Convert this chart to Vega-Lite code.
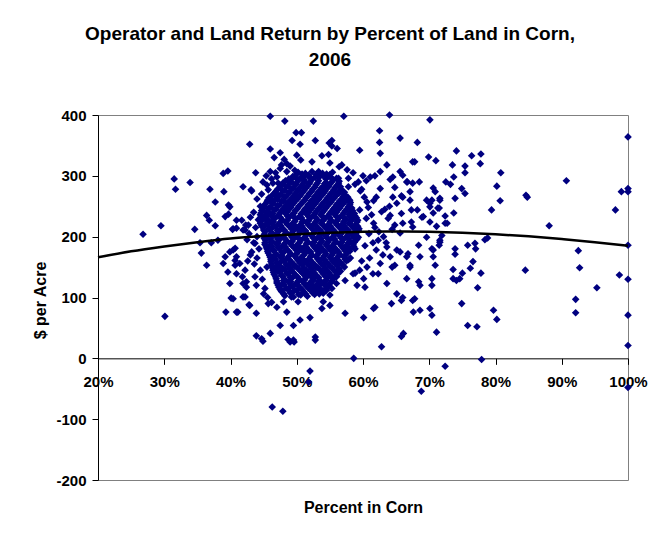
{
  "$schema": "https://vega.github.io/schema/vega-lite/v6.json",
  "width": 530,
  "height": 365,
  "autosize": {"type": "none"},
  "padding": {"left": 98, "top": 115, "right": 22, "bottom": 53},
  "background": "white",
  "title": {
    "text": ["Operator and Land Return by Percent of Land in Corn,", "2006"],
    "font": "Liberation Sans",
    "fontSize": 19,
    "fontWeight": "bold",
    "color": "black",
    "anchor": "middle",
    "dx": -33,
    "offset": 38,
    "lineHeight": 26
  },
  "config": {
    "view": {"stroke": "#808080", "strokeWidth": 1},
    "axis": {
      "labelFont": "Liberation Sans",
      "labelFontWeight": "bold",
      "labelFontSize": 15,
      "labelColor": "black",
      "titleFont": "Liberation Sans",
      "titleFontWeight": "bold",
      "titleFontSize": 16,
      "titleColor": "black",
      "domainColor": "black",
      "tickColor": "black",
      "grid": false
    }
  },
  "datasets": {
    "pts": [
      {"pct":26.8,"ret":204},{"pct":29.5,"ret":218},{"pct":31.5,"ret":295},{"pct":31.7,"ret":278},{"pct":33.9,"ret":289},{"pct":30.1,"ret":69},{"pct":34.6,"ret":212},{"pct":36.9,"ret":278},{"pct":37.7,"ret":257},{"pct":36.4,"ret":235},{"pct":36.8,"ret":227},{"pct":37.7,"ret":218},{"pct":35.4,"ret":190},{"pct":35.6,"ret":173},{"pct":36.4,"ret":153},{"pct":37.1,"ret":190},{"pct":38.1,"ret":194},{"pct":38.9,"ret":304},{"pct":39.6,"ret":308},{"pct":39.0,"ret":274},{"pct":39.2,"ret":233},{"pct":39.7,"ret":252},{"pct":39.7,"ret":237},{"pct":38.9,"ret":156},{"pct":39.6,"ret":142},{"pct":39.3,"ret":76},{"pct":39.9,"ret":123},{"pct":40.1,"ret":99},{"pct":39.2,"ret":167},{"pct":39.9,"ret":175},{"pct":40.3,"ret":212},
      {"pct":42.9,"ret":352},{"pct":43.8,"ret":305},{"pct":41.9,"ret":282},{"pct":43.1,"ret":277},{"pct":43.2,"ret":275},{"pct":40.4,"ret":213},{"pct":40.9,"ret":214},{"pct":41.7,"ret":227},{"pct":42.2,"ret":211},{"pct":42.7,"ret":219},{"pct":40.7,"ret":181},{"pct":40.9,"ret":167},{"pct":40.7,"ret":153},{"pct":42.2,"ret":145},{"pct":41.8,"ret":134},{"pct":42.4,"ret":126},{"pct":42.4,"ret":117},{"pct":41.9,"ret":101},{"pct":41.1,"ret":76},{"pct":42.8,"ret":88},{"pct":43.9,"ret":74},{"pct":43.9,"ret":37},{"pct":43.2,"ret":175},{"pct":43.7,"ret":189},
      {"pct":46.0,"ret":398},{"pct":48.2,"ret":390},{"pct":52.5,"ret":390},{"pct":49.9,"ret":371},{"pct":50.7,"ret":371},{"pct":49.3,"ret":358},{"pct":50.5,"ret":352},{"pct":52.8,"ret":358},{"pct":54.9,"ret":354},{"pct":55.3,"ret":349},{"pct":46.0,"ret":344},{"pct":47.5,"ret":338},{"pct":46.6,"ret":330},{"pct":48.1,"ret":327},{"pct":50.0,"ret":334},{"pct":50.6,"ret":326},{"pct":52.3,"ret":323},{"pct":53.8,"ret":333},{"pct":54.8,"ret":335},{"pct":55.0,"ret":321},{"pct":47.7,"ret":318},{"pct":49.0,"ret":316},{"pct":49.7,"ret":309},{"pct":48.5,"ret":307},{"pct":46.0,"ret":307},{"pct":45.4,"ret":300},{"pct":47.0,"ret":298},{"pct":49.1,"ret":294},{"pct":51.2,"ret":301},{"pct":53.3,"ret":307},{"pct":54.5,"ret":298},{"pct":46.4,"ret":288},{"pct":45.7,"ret":277},{"pct":46.7,"ret":268},{"pct":46.2,"ret":260},{"pct":39.9,"ret":249},{"pct":40.9,"ret":227},{"pct":42.3,"ret":219},{"pct":41.9,"ret":211},
      {"pct":57.1,"ret":398},{"pct":64.0,"ret":400},{"pct":70.1,"ret":392},{"pct":62.5,"ret":374},{"pct":62.5,"ret":355},{"pct":65.6,"ret":362},{"pct":68.2,"ret":355},{"pct":59.5,"ret":342},{"pct":62.6,"ret":337},{"pct":56.1,"ret":345},{"pct":55.3,"ret":358},{"pct":67.8,"ret":323},{"pct":69.9,"ret":331},{"pct":71.0,"ret":325},{"pct":56.4,"ret":315},{"pct":63.6,"ret":318},{"pct":62.6,"ret":307},{"pct":61.8,"ret":300},{"pct":65.6,"ret":307},{"pct":66.0,"ret":301},{"pct":64.1,"ret":294},{"pct":57.8,"ret":296},{"pct":60.5,"ret":292},{"pct":61.1,"ret":298},{"pct":58.8,"ret":286},{"pct":59.8,"ret":278},{"pct":62.6,"ret":279},{"pct":66.7,"ret":290},{"pct":68.5,"ret":290},{"pct":64.8,"ret":281},{"pct":67.1,"ret":274},{"pct":70.9,"ret":274},{"pct":65.8,"ret":267},{"pct":67.1,"ret":260},{"pct":69.6,"ret":260},{"pct":70.1,"ret":249},{"pct":60.6,"ret":257},{"pct":61.6,"ret":259},{"pct":64.0,"ret":250},{"pct":67.3,"ret":244},{"pct":69.1,"ret":233},{"pct":65.8,"ret":238},{"pct":62.8,"ret":241},{"pct":59.5,"ret":244},{"pct":57.8,"ret":282},{"pct":56.3,"ret":271},{"pct":57.0,"ret":260},{"pct":58.0,"ret":233},{"pct":67.3,"ret":224},{"pct":70.1,"ret":224},{"pct":64.8,"ret":219},{"pct":61.6,"ret":222},
      {"pct":56.0,"ret":134},{"pct":57.3,"ret":128},{"pct":58.5,"ret":139},{"pct":60.1,"ret":131},{"pct":59.1,"ret":120},{"pct":55.3,"ret":115},{"pct":60.3,"ret":117},{"pct":62.3,"ret":139},{"pct":63.6,"ret":123},{"pct":66.6,"ret":131},{"pct":68.4,"ret":126},{"pct":68.6,"ret":120},{"pct":70.4,"ret":131},{"pct":67.1,"ret":153},{"pct":64.8,"ret":153},{"pct":64.1,"ret":167},{"pct":65.1,"ret":178},{"pct":66.8,"ret":172},{"pct":68.4,"ret":186},{"pct":70.6,"ret":167},{"pct":65.1,"ret":106},{"pct":65.8,"ret":95},{"pct":64.3,"ret":90},{"pct":67.8,"ret":98},{"pct":70.1,"ret":82},{"pct":67.6,"ret":76},{"pct":70.4,"ret":71},{"pct":61.6,"ret":82},{"pct":57.3,"ret":74},{"pct":60.1,"ret":67},{"pct":55.0,"ret":87},{"pct":66.1,"ret":41},{"pct":65.8,"ret":36},{"pct":71.1,"ret":43},{"pct":62.8,"ret":19},{"pct":58.6,"ret":0},
      {"pct":40.4,"ret":178},{"pct":40.7,"ret":161},{"pct":41.4,"ret":156},{"pct":40.9,"ret":139},{"pct":41.9,"ret":123},{"pct":40.4,"ret":98},{"pct":42.2,"ret":101},{"pct":42.9,"ret":87},{"pct":40.9,"ret":76},{"pct":44.7,"ret":32},{"pct":46.0,"ret":41},{"pct":48.7,"ret":31},{"pct":49.5,"ret":30},{"pct":52.8,"ret":35},{"pct":47.5,"ret":54},{"pct":49.5,"ret":54},{"pct":50.5,"ret":63},{"pct":52.0,"ret":67},{"pct":48.5,"ret":76},{"pct":47.0,"ret":84},{"pct":45.7,"ret":90},{"pct":45.0,"ret":106},{"pct":43.7,"ret":134},{"pct":45.5,"ret":150},{"pct":46.5,"ret":145},{"pct":47.7,"ret":112},{"pct":49.2,"ret":101},{"pct":50.2,"ret":93},{"pct":48.0,"ret":93},{"pct":53.8,"ret":82},{"pct":54.0,"ret":93},{"pct":55.0,"ret":104},{"pct":54.5,"ret":112},{"pct":56.0,"ret":123},{"pct":53.8,"ret":123},{"pct":52.5,"ret":128},{"pct":51.7,"ret":137},
      {"pct":74.1,"ret":341},{"pct":76.4,"ret":333},{"pct":77.8,"ret":336},{"pct":77.7,"ret":320},{"pct":75.4,"ret":316},{"pct":73.5,"ret":318},{"pct":75.4,"ret":305},{"pct":73.7,"ret":298},{"pct":80.8,"ret":305},{"pct":72.5,"ret":290},{"pct":73.2,"ret":286},{"pct":80.2,"ret":283},{"pct":74.9,"ret":279},{"pct":75.4,"ret":271},{"pct":71.6,"ret":263},{"pct":73.9,"ret":263},{"pct":70.4,"ret":260},{"pct":80.7,"ret":259},{"pct":79.4,"ret":244},{"pct":84.6,"ret":268},{"pct":84.8,"ret":265},{"pct":71.5,"ret":247},{"pct":73.7,"ret":239},{"pct":72.4,"ret":234},{"pct":72.4,"ret":222},{"pct":71.1,"ret":217},{"pct":78.4,"ret":195},{"pct":78.8,"ret":198},{"pct":71.9,"ret":202},{"pct":71.6,"ret":191},{"pct":71.5,"ret":186},{"pct":70.4,"ret":180},{"pct":73.9,"ret":180},{"pct":73.9,"ret":171},{"pct":75.8,"ret":186},{"pct":76.9,"ret":189},{"pct":77.0,"ret":180},{"pct":70.9,"ret":153},{"pct":73.6,"ret":146},{"pct":73.6,"ret":131},{"pct":74.1,"ret":128},{"pct":74.6,"ret":131},{"pct":75.0,"ret":140},{"pct":76.2,"ret":148},{"pct":76.6,"ret":159},{"pct":77.8,"ret":140},{"pct":77.3,"ret":116},{"pct":74.9,"ret":90},{"pct":79.7,"ret":79},{"pct":80.2,"ret":64},{"pct":75.8,"ret":54},{"pct":77.2,"ret":52},{"pct":84.5,"ret":145},{"pct":77.9,"ret":-2},
      {"pct":100,"ret":364},{"pct":90.7,"ret":292},{"pct":99.0,"ret":274},{"pct":100,"ret":279},{"pct":100,"ret":274},{"pct":98.1,"ret":244},{"pct":88.1,"ret":218},{"pct":92.5,"ret":177},{"pct":100,"ret":186},{"pct":92.7,"ret":149},{"pct":98.7,"ret":137},{"pct":100,"ret":130},{"pct":95.3,"ret":116},{"pct":92.1,"ret":97},{"pct":92.1,"ret":75},{"pct":100,"ret":71},{"pct":100,"ret":21},
      {"pct":72.4,"ret":-13},{"pct":52.0,"ret":-21},{"pct":51.8,"ret":-39},{"pct":68.8,"ret":-54},{"pct":100,"ret":-48},{"pct":46.3,"ret":-80},{"pct":47.9,"ret":-87},{"pct":44.9,"ret":28},{"pct":49.0,"ret":27},{"pct":49.6,"ret":27},{"pct":52.8,"ret":30},
      {"pct":67.5,"ret":323},{"pct":64.5,"ret":298},{"pct":66.6,"ret":290},{"pct":67.5,"ret":288},{"pct":70.6,"ret":280},{"pct":70.1,"ret":255},{"pct":71.6,"ret":260},{"pct":66.0,"ret":265},{"pct":65.1,"ret":255},{"pct":68.2,"ret":244},{"pct":68.9,"ret":232},{"pct":70.6,"ret":239},{"pct":71.3,"ret":247},{"pct":72.7,"ret":222},{"pct":64.1,"ret":235},{"pct":66.0,"ret":222},{"pct":67.5,"ret":216},{"pct":65.6,"ret":206},{"pct":69.6,"ret":199},{"pct":71.6,"ret":194},{"pct":62.3,"ret":194},{"pct":63.6,"ret":183},{"pct":65.6,"ret":175},{"pct":66.6,"ret":167},{"pct":68.6,"ret":167},{"pct":70.6,"ret":178},{"pct":62.6,"ret":156},{"pct":64.4,"ret":150},{"pct":67.1,"ret":150},{"pct":61.5,"ret":139},{"pct":70.4,"ret":120},{"pct":66.0,"ret":100},{"pct":67.5,"ret":95},{"pct":68.6,"ret":79},{"pct":61.8,"ret":84},
      {"pct":44.0,"ret":262},{"pct":44.5,"ret":250},{"pct":43.5,"ret":240},{"pct":44.2,"ret":228},{"pct":43.0,"ret":232},{"pct":43.8,"ret":215},{"pct":42.8,"ret":205},{"pct":44.0,"ret":200},{"pct":43.5,"ret":190},{"pct":44.3,"ret":180},{"pct":42.5,"ret":195},{"pct":43.0,"ret":170},{"pct":44.0,"ret":165},{"pct":43.6,"ret":155},{"pct":44.5,"ret":145},{"pct":42.6,"ret":160},{"pct":44.8,"ret":130},{"pct":43.9,"ret":120},{"pct":45.2,"ret":115},{"pct":45.6,"ret":100},{"pct":46.2,"ret":92},{"pct":44.7,"ret":270},{"pct":45.5,"ret":285},{"pct":46.2,"ret":295},{"pct":46.8,"ret":305},{"pct":47.5,"ret":312},{"pct":48.5,"ret":320},{"pct":47.2,"ret":288},{"pct":44.9,"ret":290},
      {"pct":59.6,"ret":275},{"pct":60.2,"ret":265},{"pct":60.8,"ret":248},{"pct":61.3,"ret":236},{"pct":60.5,"ret":230},{"pct":61.8,"ret":215},{"pct":60.9,"ret":205},{"pct":62.4,"ret":208},{"pct":63.1,"ret":200},{"pct":61.5,"ret":190},{"pct":60.3,"ret":185},{"pct":62.0,"ret":178},{"pct":63.0,"ret":170},{"pct":61.0,"ret":165},{"pct":59.8,"ret":160},{"pct":60.6,"ret":150},{"pct":59.5,"ret":145},{"pct":58.8,"ret":140},{"pct":59.3,"ret":290},{"pct":60.0,"ret":300},{"pct":58.5,"ret":305},{"pct":57.6,"ret":310},{"pct":56.8,"ret":318},{"pct":63.8,"ret":230},{"pct":64.4,"ret":212},{"pct":63.3,"ret":245},{"pct":62.0,"ret":265},{"pct":64.5,"ret":265},{"pct":63.5,"ret":190},
      {"pct":50.2,"ret":306},{"pct":51.3,"ret":304},{"pct":52.3,"ret":307},{"pct":53.4,"ret":305},{"pct":54.5,"ret":303},{"pct":55.4,"ret":306},
      {"pct":49.4,"ret":299},{"pct":50.6,"ret":297},{"pct":51.7,"ret":300},{"pct":52.8,"ret":298},{"pct":53.9,"ret":301},{"pct":55.0,"ret":299},{"pct":56.0,"ret":296},
      {"pct":48.3,"ret":292},{"pct":49.2,"ret":290},{"pct":50.3,"ret":293},{"pct":51.2,"ret":291},{"pct":52.3,"ret":294},{"pct":53.3,"ret":292},{"pct":54.4,"ret":289},{"pct":55.5,"ret":293},{"pct":56.4,"ret":291},
      {"pct":47.6,"ret":285},{"pct":48.7,"ret":283},{"pct":49.8,"ret":286},{"pct":50.8,"ret":284},{"pct":51.9,"ret":287},{"pct":52.9,"ret":285},{"pct":54.0,"ret":282},{"pct":55.0,"ret":286},{"pct":56.1,"ret":284},
      {"pct":47.1,"ret":278},{"pct":48.2,"ret":276},{"pct":49.3,"ret":279},{"pct":50.2,"ret":277},{"pct":51.4,"ret":280},{"pct":52.4,"ret":278},{"pct":53.5,"ret":275},{"pct":54.5,"ret":279},{"pct":55.6,"ret":277},{"pct":56.7,"ret":278},
      {"pct":46.6,"ret":271},{"pct":47.6,"ret":269},{"pct":48.8,"ret":272},{"pct":49.8,"ret":270},{"pct":50.9,"ret":273},{"pct":51.9,"ret":271},{"pct":53.0,"ret":268},{"pct":54.1,"ret":272},{"pct":55.1,"ret":270},{"pct":56.2,"ret":271},{"pct":57.2,"ret":269},
      {"pct":45.8,"ret":264},{"pct":47.1,"ret":262},{"pct":48.2,"ret":265},{"pct":49.3,"ret":263},{"pct":50.4,"ret":266},{"pct":51.4,"ret":264},{"pct":52.5,"ret":261},{"pct":53.5,"ret":265},{"pct":54.6,"ret":263},{"pct":55.7,"ret":264},{"pct":56.8,"ret":262},{"pct":57.7,"ret":265},
      {"pct":45.5,"ret":257},{"pct":46.5,"ret":255},{"pct":47.7,"ret":258},{"pct":48.7,"ret":256},{"pct":49.8,"ret":259},{"pct":50.9,"ret":257},{"pct":51.9,"ret":254},{"pct":53.0,"ret":258},{"pct":54.1,"ret":256},{"pct":55.2,"ret":257},{"pct":56.2,"ret":255},{"pct":57.3,"ret":258},{"pct":58.1,"ret":256},
      {"pct":45.0,"ret":250},{"pct":46.0,"ret":248},{"pct":47.1,"ret":251},{"pct":48.2,"ret":249},{"pct":49.3,"ret":252},{"pct":50.3,"ret":250},{"pct":51.4,"ret":247},{"pct":52.5,"ret":251},{"pct":53.6,"ret":249},{"pct":54.6,"ret":250},{"pct":55.7,"ret":248},{"pct":56.7,"ret":251},{"pct":57.8,"ret":249},
      {"pct":44.7,"ret":243},{"pct":45.6,"ret":241},{"pct":46.6,"ret":244},{"pct":47.7,"ret":242},{"pct":48.8,"ret":245},{"pct":49.8,"ret":243},{"pct":50.9,"ret":240},{"pct":52.0,"ret":244},{"pct":53.0,"ret":242},{"pct":54.1,"ret":243},{"pct":55.2,"ret":241},{"pct":56.2,"ret":244},{"pct":57.3,"ret":242},{"pct":58.4,"ret":243},
      {"pct":44.5,"ret":236},{"pct":45.2,"ret":234},{"pct":46.1,"ret":237},{"pct":47.2,"ret":235},{"pct":48.3,"ret":238},{"pct":49.3,"ret":236},{"pct":50.4,"ret":233},{"pct":51.5,"ret":237},{"pct":52.5,"ret":235},{"pct":53.6,"ret":236},{"pct":54.7,"ret":234},{"pct":55.7,"ret":237},{"pct":56.8,"ret":235},{"pct":57.9,"ret":236},{"pct":58.8,"ret":234},
      {"pct":44.8,"ret":229},{"pct":45.7,"ret":227},{"pct":46.7,"ret":230},{"pct":47.8,"ret":228},{"pct":48.8,"ret":231},{"pct":49.9,"ret":229},{"pct":51.0,"ret":226},{"pct":52.0,"ret":230},{"pct":53.1,"ret":228},{"pct":54.2,"ret":229},{"pct":55.2,"ret":227},{"pct":56.3,"ret":230},{"pct":57.4,"ret":228},{"pct":58.4,"ret":229},{"pct":59.2,"ret":227},
      {"pct":44.5,"ret":222},{"pct":45.3,"ret":220},{"pct":46.2,"ret":223},{"pct":47.3,"ret":221},{"pct":48.3,"ret":224},{"pct":49.4,"ret":222},{"pct":50.5,"ret":219},{"pct":51.5,"ret":223},{"pct":52.6,"ret":221},{"pct":53.7,"ret":222},{"pct":54.8,"ret":220},{"pct":55.8,"ret":223},{"pct":56.9,"ret":221},{"pct":57.9,"ret":222},{"pct":58.9,"ret":220},
      {"pct":44.9,"ret":215},{"pct":45.8,"ret":213},{"pct":46.8,"ret":216},{"pct":47.8,"ret":214},{"pct":48.9,"ret":217},{"pct":50.0,"ret":215},{"pct":51.0,"ret":212},{"pct":52.1,"ret":216},{"pct":53.2,"ret":214},{"pct":54.3,"ret":215},{"pct":55.3,"ret":213},{"pct":56.4,"ret":216},{"pct":57.4,"ret":214},{"pct":58.5,"ret":215},{"pct":59.4,"ret":213},
      {"pct":45.2,"ret":208},{"pct":46.3,"ret":206},{"pct":47.3,"ret":209},{"pct":48.4,"ret":207},{"pct":49.5,"ret":210},{"pct":50.5,"ret":208},{"pct":51.6,"ret":205},{"pct":52.7,"ret":209},{"pct":53.8,"ret":207},{"pct":54.8,"ret":208},{"pct":55.9,"ret":206},{"pct":56.9,"ret":209},{"pct":58.0,"ret":207},{"pct":59.0,"ret":208},
      {"pct":45.0,"ret":201},{"pct":45.8,"ret":199},{"pct":46.8,"ret":202},{"pct":47.9,"ret":200},{"pct":49.0,"ret":203},{"pct":50.0,"ret":201},{"pct":51.1,"ret":198},{"pct":52.2,"ret":202},{"pct":53.3,"ret":200},{"pct":54.3,"ret":201},{"pct":55.4,"ret":199},{"pct":56.4,"ret":202},{"pct":57.5,"ret":200},{"pct":58.5,"ret":201},{"pct":59.3,"ret":199},
      {"pct":45.3,"ret":194},{"pct":46.3,"ret":192},{"pct":47.4,"ret":195},{"pct":48.5,"ret":193},{"pct":49.5,"ret":196},{"pct":50.6,"ret":194},{"pct":51.7,"ret":191},{"pct":52.8,"ret":195},{"pct":53.8,"ret":193},{"pct":54.9,"ret":194},{"pct":55.9,"ret":192},{"pct":57.0,"ret":195},{"pct":58.0,"ret":193},{"pct":58.9,"ret":194},
      {"pct":45.2,"ret":187},{"pct":45.9,"ret":185},{"pct":46.9,"ret":188},{"pct":48.0,"ret":186},{"pct":49.0,"ret":189},{"pct":50.1,"ret":187},{"pct":51.2,"ret":184},{"pct":52.3,"ret":188},{"pct":53.3,"ret":186},{"pct":54.4,"ret":187},{"pct":55.4,"ret":185},{"pct":56.5,"ret":188},{"pct":57.5,"ret":186},{"pct":58.5,"ret":187},
      {"pct":45.5,"ret":180},{"pct":46.4,"ret":178},{"pct":47.5,"ret":181},{"pct":48.5,"ret":179},{"pct":49.6,"ret":182},{"pct":50.7,"ret":180},{"pct":51.8,"ret":177},{"pct":52.8,"ret":181},{"pct":53.9,"ret":179},{"pct":54.9,"ret":180},{"pct":56.0,"ret":178},{"pct":57.0,"ret":181},{"pct":58.0,"ret":179},{"pct":58.8,"ret":180},
      {"pct":45.7,"ret":173},{"pct":46.9,"ret":171},{"pct":48.0,"ret":174},{"pct":49.1,"ret":172},{"pct":50.2,"ret":175},{"pct":51.3,"ret":173},{"pct":52.3,"ret":170},{"pct":53.4,"ret":174},{"pct":54.4,"ret":172},{"pct":55.5,"ret":173},{"pct":56.5,"ret":171},{"pct":57.6,"ret":174},
      {"pct":46.0,"ret":166},{"pct":46.5,"ret":164},{"pct":47.5,"ret":167},{"pct":48.6,"ret":165},{"pct":49.7,"ret":168},{"pct":50.7,"ret":166},{"pct":51.8,"ret":163},{"pct":52.9,"ret":167},{"pct":53.9,"ret":165},{"pct":55.0,"ret":166},{"pct":56.0,"ret":164},{"pct":57.1,"ret":167},{"pct":58.1,"ret":165},
      {"pct":46.1,"ret":159},{"pct":47.0,"ret":157},{"pct":48.1,"ret":160},{"pct":49.2,"ret":158},{"pct":50.2,"ret":161},{"pct":51.3,"ret":159},{"pct":52.4,"ret":156},{"pct":53.4,"ret":160},{"pct":54.5,"ret":158},{"pct":55.5,"ret":159},{"pct":56.6,"ret":157},{"pct":57.5,"ret":160},
      {"pct":46.3,"ret":152},{"pct":47.6,"ret":150},{"pct":48.7,"ret":153},{"pct":49.7,"ret":151},{"pct":50.8,"ret":154},{"pct":51.9,"ret":152},{"pct":52.9,"ret":149},{"pct":54.0,"ret":153},{"pct":55.0,"ret":151},{"pct":56.1,"ret":152},{"pct":57.2,"ret":150},
      {"pct":46.4,"ret":145},{"pct":47.2,"ret":143},{"pct":48.2,"ret":146},{"pct":49.2,"ret":144},{"pct":50.3,"ret":147},{"pct":51.4,"ret":145},{"pct":52.4,"ret":142},{"pct":53.5,"ret":146},{"pct":54.5,"ret":144},{"pct":55.6,"ret":145},{"pct":56.6,"ret":143},
      {"pct":46.6,"ret":138},{"pct":47.7,"ret":136},{"pct":48.7,"ret":139},{"pct":49.8,"ret":137},{"pct":50.9,"ret":140},{"pct":51.9,"ret":138},{"pct":53.0,"ret":135},{"pct":54.0,"ret":139},{"pct":55.1,"ret":137},{"pct":56.1,"ret":138},
      {"pct":46.9,"ret":131},{"pct":48.2,"ret":129},{"pct":49.3,"ret":132},{"pct":50.4,"ret":130},{"pct":51.4,"ret":133},{"pct":52.5,"ret":131},{"pct":53.5,"ret":128},{"pct":54.6,"ret":132},{"pct":55.5,"ret":130},
      {"pct":47.0,"ret":124},{"pct":47.8,"ret":122},{"pct":48.8,"ret":125},{"pct":49.9,"ret":123},{"pct":50.9,"ret":126},{"pct":52.0,"ret":124},{"pct":53.0,"ret":121},{"pct":54.1,"ret":125},{"pct":55.0,"ret":123},
      {"pct":47.3,"ret":117},{"pct":48.4,"ret":115},{"pct":49.4,"ret":118},{"pct":50.5,"ret":116},{"pct":51.5,"ret":119},{"pct":52.6,"ret":117},{"pct":53.5,"ret":114},{"pct":54.5,"ret":118},
      {"pct":47.7,"ret":110},{"pct":49.0,"ret":108},{"pct":50.0,"ret":111},{"pct":51.1,"ret":109},{"pct":52.1,"ret":112},{"pct":53.1,"ret":110},{"pct":54.0,"ret":107},
      {"pct":48.2,"ret":103},{"pct":49.5,"ret":101},{"pct":50.6,"ret":104},{"pct":51.6,"ret":102},{"pct":52.7,"ret":105},
      {"pct":49.9,"ret":302},{"pct":50.8,"ret":303},{"pct":51.8,"ret":301},{"pct":52.9,"ret":302},{"pct":53.9,"ret":304},{"pct":55.0,"ret":302},
      {"pct":48.8,"ret":295},{"pct":49.9,"ret":296},{"pct":51.1,"ret":294},{"pct":52.2,"ret":295},{"pct":53.3,"ret":297},{"pct":54.4,"ret":295},{"pct":55.5,"ret":294},{"pct":56.3,"ret":296},
      {"pct":47.9,"ret":288},{"pct":48.9,"ret":289},{"pct":49.9,"ret":287},{"pct":51.0,"ret":288},{"pct":52.0,"ret":290},{"pct":53.1,"ret":288},{"pct":54.2,"ret":287},{"pct":55.2,"ret":289},{"pct":56.3,"ret":288},
      {"pct":47.4,"ret":281},{"pct":48.4,"ret":282},{"pct":49.5,"ret":280},{"pct":50.5,"ret":281},{"pct":51.6,"ret":283},{"pct":52.7,"ret":281},{"pct":53.7,"ret":280},{"pct":54.8,"ret":282},{"pct":55.8,"ret":281},{"pct":56.6,"ret":282},
      {"pct":46.8,"ret":274},{"pct":47.9,"ret":275},{"pct":48.9,"ret":273},{"pct":50.0,"ret":274},{"pct":51.1,"ret":276},{"pct":52.2,"ret":274},{"pct":53.2,"ret":273},{"pct":54.3,"ret":275},{"pct":55.4,"ret":274},{"pct":56.4,"ret":275},{"pct":57.2,"ret":273},
      {"pct":46.2,"ret":267},{"pct":47.3,"ret":268},{"pct":48.4,"ret":266},{"pct":49.5,"ret":267},{"pct":50.6,"ret":269},{"pct":51.7,"ret":267},{"pct":52.7,"ret":266},{"pct":53.8,"ret":268},{"pct":54.9,"ret":267},{"pct":55.9,"ret":268},{"pct":57.0,"ret":266},
      {"pct":45.6,"ret":260},{"pct":46.8,"ret":261},{"pct":48.0,"ret":259},{"pct":49.0,"ret":260},{"pct":50.1,"ret":262},{"pct":51.2,"ret":260},{"pct":52.2,"ret":259},{"pct":53.3,"ret":261},{"pct":54.4,"ret":260},{"pct":55.4,"ret":261},{"pct":56.5,"ret":259},{"pct":57.5,"ret":261},{"pct":58.0,"ret":260},
      {"pct":45.2,"ret":253},{"pct":46.3,"ret":254},{"pct":47.4,"ret":252},{"pct":48.5,"ret":253},{"pct":49.5,"ret":255},{"pct":50.6,"ret":253},{"pct":51.7,"ret":252},{"pct":52.8,"ret":254},{"pct":53.8,"ret":253},{"pct":54.9,"ret":254},{"pct":56.0,"ret":252},{"pct":57.0,"ret":254},{"pct":58.0,"ret":253},
      {"pct":44.9,"ret":246},{"pct":45.8,"ret":247},{"pct":46.9,"ret":245},{"pct":48.0,"ret":246},{"pct":49.1,"ret":248},{"pct":50.1,"ret":246},{"pct":51.2,"ret":245},{"pct":52.3,"ret":247},{"pct":53.3,"ret":246},{"pct":54.4,"ret":247},{"pct":55.5,"ret":245},{"pct":56.5,"ret":247},{"pct":57.6,"ret":246},{"pct":58.3,"ret":247},
      {"pct":44.6,"ret":239},{"pct":45.4,"ret":240},{"pct":46.4,"ret":238},{"pct":47.5,"ret":239},{"pct":48.6,"ret":241},{"pct":49.6,"ret":239},{"pct":50.7,"ret":238},{"pct":51.8,"ret":240},{"pct":52.8,"ret":239},{"pct":53.9,"ret":240},{"pct":55.0,"ret":238},{"pct":56.0,"ret":240},{"pct":57.1,"ret":239},{"pct":58.1,"ret":240},{"pct":58.7,"ret":238},
      {"pct":44.6,"ret":232},{"pct":45.5,"ret":233},{"pct":46.4,"ret":231},{"pct":47.5,"ret":232},{"pct":48.6,"ret":234},{"pct":49.6,"ret":232},{"pct":50.7,"ret":231},{"pct":51.8,"ret":233},{"pct":52.8,"ret":232},{"pct":53.9,"ret":233},{"pct":55.0,"ret":231},{"pct":56.0,"ret":233},{"pct":57.1,"ret":232},{"pct":58.2,"ret":233},{"pct":59.0,"ret":231},
      {"pct":44.6,"ret":225},{"pct":45.5,"ret":226},{"pct":46.5,"ret":224},{"pct":47.6,"ret":225},{"pct":48.6,"ret":227},{"pct":49.7,"ret":225},{"pct":50.8,"ret":224},{"pct":51.8,"ret":226},{"pct":52.9,"ret":225},{"pct":53.9,"ret":226},{"pct":55.0,"ret":224},{"pct":56.1,"ret":226},{"pct":57.1,"ret":225},{"pct":58.2,"ret":226},{"pct":59.1,"ret":224},
      {"pct":44.7,"ret":218},{"pct":45.6,"ret":219},{"pct":46.5,"ret":217},{"pct":47.6,"ret":218},{"pct":48.6,"ret":220},{"pct":49.7,"ret":218},{"pct":50.8,"ret":217},{"pct":51.8,"ret":219},{"pct":52.9,"ret":218},{"pct":54.0,"ret":219},{"pct":55.1,"ret":217},{"pct":56.1,"ret":219},{"pct":57.2,"ret":218},{"pct":58.2,"ret":219},{"pct":59.2,"ret":217},
      {"pct":45.0,"ret":211},{"pct":46.0,"ret":212},{"pct":47.1,"ret":210},{"pct":48.1,"ret":211},{"pct":49.2,"ret":213},{"pct":50.3,"ret":211},{"pct":51.3,"ret":210},{"pct":52.4,"ret":212},{"pct":53.5,"ret":211},{"pct":54.6,"ret":212},{"pct":55.6,"ret":210},{"pct":56.7,"ret":212},{"pct":57.7,"ret":211},{"pct":58.8,"ret":212},{"pct":59.3,"ret":210},
      {"pct":45.1,"ret":204},{"pct":46.1,"ret":205},{"pct":47.1,"ret":203},{"pct":48.2,"ret":204},{"pct":49.3,"ret":206},{"pct":50.3,"ret":204},{"pct":51.4,"ret":203},{"pct":52.5,"ret":205},{"pct":53.6,"ret":204},{"pct":54.6,"ret":205},{"pct":55.7,"ret":203},{"pct":56.7,"ret":205},{"pct":57.8,"ret":204},{"pct":58.8,"ret":205},
      {"pct":45.1,"ret":197},{"pct":46.1,"ret":198},{"pct":47.1,"ret":196},{"pct":48.2,"ret":197},{"pct":49.3,"ret":199},{"pct":50.3,"ret":197},{"pct":51.4,"ret":196},{"pct":52.5,"ret":198},{"pct":53.6,"ret":197},{"pct":54.6,"ret":198},{"pct":55.7,"ret":196},{"pct":56.7,"ret":198},{"pct":57.8,"ret":197},{"pct":58.7,"ret":198},{"pct":59.1,"ret":196},
      {"pct":45.2,"ret":190},{"pct":46.1,"ret":191},{"pct":47.2,"ret":189},{"pct":48.3,"ret":190},{"pct":49.3,"ret":192},{"pct":50.4,"ret":190},{"pct":51.5,"ret":189},{"pct":52.6,"ret":191},{"pct":53.6,"ret":190},{"pct":54.7,"ret":191},{"pct":55.7,"ret":189},{"pct":56.8,"ret":191},{"pct":57.8,"ret":190},{"pct":58.7,"ret":191},
      {"pct":45.4,"ret":183},{"pct":46.2,"ret":184},{"pct":47.2,"ret":182},{"pct":48.3,"ret":183},{"pct":49.3,"ret":185},{"pct":50.4,"ret":183},{"pct":51.5,"ret":182},{"pct":52.6,"ret":184},{"pct":53.6,"ret":183},{"pct":54.7,"ret":184},{"pct":55.7,"ret":182},{"pct":56.8,"ret":184},{"pct":57.8,"ret":183},{"pct":58.6,"ret":184},
      {"pct":45.6,"ret":176},{"pct":46.6,"ret":177},{"pct":47.7,"ret":175},{"pct":48.8,"ret":176},{"pct":49.9,"ret":178},{"pct":51.0,"ret":176},{"pct":52.1,"ret":175},{"pct":53.1,"ret":177},{"pct":54.2,"ret":176},{"pct":55.2,"ret":177},{"pct":56.3,"ret":175},{"pct":57.3,"ret":177},{"pct":58.0,"ret":176},
      {"pct":45.9,"ret":169},{"pct":46.7,"ret":170},{"pct":47.8,"ret":168},{"pct":48.9,"ret":169},{"pct":49.9,"ret":171},{"pct":51.0,"ret":169},{"pct":52.1,"ret":168},{"pct":53.1,"ret":170},{"pct":54.2,"ret":169},{"pct":55.3,"ret":170},{"pct":56.3,"ret":168},{"pct":57.4,"ret":170},
      {"pct":46.1,"ret":162},{"pct":46.8,"ret":163},{"pct":47.8,"ret":161},{"pct":48.9,"ret":162},{"pct":50.0,"ret":164},{"pct":51.0,"ret":162},{"pct":52.1,"ret":161},{"pct":53.2,"ret":163},{"pct":54.2,"ret":162},{"pct":55.3,"ret":163},{"pct":56.3,"ret":161},{"pct":57.3,"ret":163},{"pct":57.8,"ret":162},
      {"pct":46.2,"ret":155},{"pct":47.3,"ret":156},{"pct":48.4,"ret":154},{"pct":49.5,"ret":155},{"pct":50.5,"ret":157},{"pct":51.6,"ret":155},{"pct":52.7,"ret":154},{"pct":53.7,"ret":156},{"pct":54.8,"ret":155},{"pct":55.8,"ret":156},{"pct":56.9,"ret":154},
      {"pct":46.4,"ret":148},{"pct":46.9,"ret":149},{"pct":47.9,"ret":147},{"pct":49.0,"ret":148},{"pct":50.0,"ret":150},{"pct":51.1,"ret":148},{"pct":52.2,"ret":147},{"pct":53.2,"ret":149},{"pct":54.3,"ret":148},{"pct":55.3,"ret":149},{"pct":56.4,"ret":147},
      {"pct":46.5,"ret":141},{"pct":47.5,"ret":142},{"pct":48.5,"ret":140},{"pct":49.5,"ret":141},{"pct":50.6,"ret":143},{"pct":51.7,"ret":141},{"pct":52.7,"ret":140},{"pct":53.8,"ret":142},{"pct":54.8,"ret":141},{"pct":55.9,"ret":142},
      {"pct":46.8,"ret":134},{"pct":47.9,"ret":135},{"pct":49.0,"ret":133},{"pct":50.1,"ret":134},{"pct":51.2,"ret":136},{"pct":52.2,"ret":134},{"pct":53.3,"ret":133},{"pct":54.3,"ret":135},{"pct":55.3,"ret":134},{"pct":55.9,"ret":135},
      {"pct":47.0,"ret":127},{"pct":48.0,"ret":128},{"pct":49.1,"ret":126},{"pct":50.2,"ret":127},{"pct":51.2,"ret":129},{"pct":52.3,"ret":127},{"pct":53.3,"ret":126},{"pct":54.4,"ret":128},{"pct":55.3,"ret":127},
      {"pct":47.2,"ret":120},{"pct":48.1,"ret":121},{"pct":49.1,"ret":119},{"pct":50.2,"ret":120},{"pct":51.2,"ret":122},{"pct":52.3,"ret":120},{"pct":53.3,"ret":119},{"pct":54.3,"ret":121},{"pct":54.8,"ret":120},
      {"pct":47.5,"ret":113},{"pct":48.7,"ret":114},{"pct":49.7,"ret":112},{"pct":50.8,"ret":113},{"pct":51.8,"ret":115},{"pct":52.8,"ret":113},{"pct":53.8,"ret":112},{"pct":54.3,"ret":114},
      {"pct":48.0,"ret":106},{"pct":49.2,"ret":107},{"pct":50.3,"ret":105},{"pct":51.3,"ret":106},{"pct":52.4,"ret":108},{"pct":53.4,"ret":106}
    ],
    "trend": [
      {"pct":20,"ret":166},{"pct":25,"ret":176},{"pct":30,"ret":184},{"pct":35,"ret":191},{"pct":40,"ret":197},{"pct":45,"ret":201},{"pct":50,"ret":204},{"pct":55,"ret":206.5},{"pct":60,"ret":208},{"pct":65,"ret":208.5},{"pct":70,"ret":208},{"pct":75,"ret":206.5},{"pct":80,"ret":204},{"pct":85,"ret":200.5},{"pct":90,"ret":196},{"pct":95,"ret":191},{"pct":100,"ret":185}
    ]
  },
  "layer": [
    {
      "data": {"name": "pts"},
      "mark": {"type": "point", "shape": "diamond", "filled": true, "color": "#000080", "opacity": 1, "size": 58},
      "encoding": {
        "x": {
          "field": "pct", "type": "quantitative",
          "scale": {"domain": [20, 100], "nice": false, "zero": false},
          "axis": {
            "title": "Percent in Corn",
            "values": [20, 30, 40, 50, 60, 70, 80, 90, 100],
            "labelExpr": "datum.value + '%'",
            "offset": -121.67,
            "tickSize": 6,
            "labelPadding": 10,
            "labelFlush": false,
            "labelOverlap": false,
            "titleY": 149,
            "titleBaseline": "middle"
          }
        },
        "y": {
          "field": "ret", "type": "quantitative",
          "scale": {"domain": [-200, 400], "nice": false, "zero": false},
          "axis": {
            "title": "$ per Acre",
            "values": [-200, -100, 0, 100, 200, 300, 400],
            "labelExpr": "'' + datum.value",
            "tickSize": 6,
            "labelPadding": 6,
            "labelFlush": false,
            "labelOverlap": false,
            "titleX": -58,
            "titleY": 185,
            "titleBaseline": "middle"
          }
        }
      }
    },
    {
      "data": {"name": "trend"},
      "mark": {"type": "line", "color": "black", "strokeWidth": 2.5, "interpolate": "monotone"},
      "encoding": {
        "x": {"field": "pct", "type": "quantitative"},
        "y": {"field": "ret", "type": "quantitative"}
      }
    }
  ]
}
